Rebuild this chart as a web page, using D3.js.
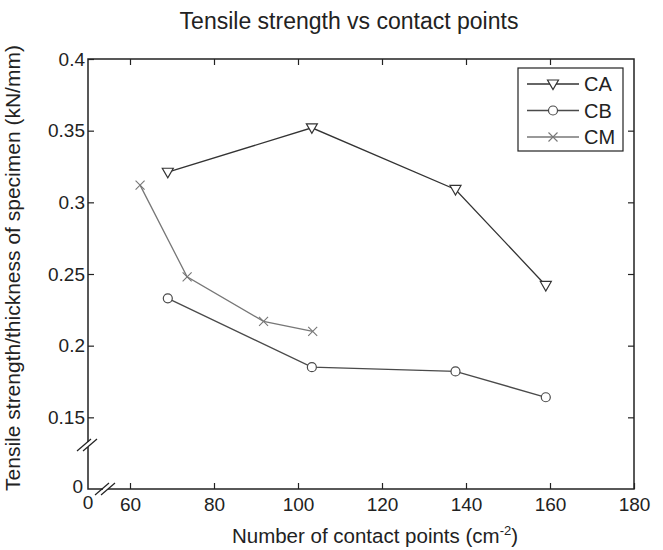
<!DOCTYPE html>
<html>
<head>
<meta charset="utf-8">
<script src="https://cdn.jsdelivr.net/npm/d3@7"></script>
<style>
  html, body { margin: 0; padding: 0; background: #fff; }
  svg { display: block; font-family: "Liberation Sans", Arial, sans-serif; }
</style>
</head>
<body>
<svg id="chart" width="663" height="550"></svg>
<script>
// Contact points (cm^-2) and tensile strength / thickness (kN/mm)
const seriesNames = ["CA", "CB", "CM"];
const caX = [69, 103.3, 137.5, 159];
const caY = [0.321, 0.352, 0.309, 0.242];
const cbX = [69, 103.3, 137.5, 159];
const cbY = [0.233, 0.185, 0.182, 0.164];
const cmX = [62.4, 73.6, 91.8, 103.5];
const cmY = [0.312, 0.248, 0.217, 0.210];
const xTicks = [60, 80, 100, 120, 140, 160, 180];
const yTicks = [0.15, 0.2, 0.25, 0.3, 0.35, 0.4];

const svg = d3.select("#chart");
const m = { left: 88, right: 634, top: 59, bottom: 489 };

const x = d3.scaleLinear().domain([50, 180]).range([m.left, m.right]);
const y = d3.scaleLinear().domain([0.1, 0.4]).range([m.bottom, m.top]);

const axisColor = "#222";
const tickFont = 19;
const fmt = d => String(d);

// Frame
svg.append("rect")
  .attr("x", m.left).attr("y", m.top)
  .attr("width", m.right - m.left).attr("height", m.bottom - m.top)
  .attr("fill", "none").attr("stroke", axisColor).attr("stroke-width", 1.5);

// Axes with inward ticks
const styleAxis = g => {
  g.select(".domain").remove();
  g.selectAll(".tick line").attr("stroke", axisColor).attr("stroke-width", 1.2);
  g.selectAll(".tick text").attr("fill", "#222").style("font-size", tickFont + "px")
    .style("font-family", '"Liberation Sans", Arial, sans-serif');
};

svg.append("g").attr("transform", `translate(0,${m.bottom})`)
  .call(d3.axisBottom(x).tickValues(xTicks).tickSizeInner(-6).tickSizeOuter(0).tickPadding(9).tickFormat(fmt))
  .call(styleAxis);
svg.append("g").attr("transform", `translate(0,${m.top})`)
  .call(d3.axisTop(x).tickValues(xTicks.slice(0, -1)).tickSizeInner(-6).tickSizeOuter(0).tickFormat(""))
  .call(styleAxis);
svg.append("g").attr("transform", `translate(${m.left},0)`)
  .call(d3.axisLeft(y).tickValues(yTicks).tickSizeInner(-6).tickSizeOuter(0).tickPadding(3).tickFormat(fmt))
  .call(styleAxis);
svg.append("g").attr("transform", `translate(${m.right},0)`)
  .call(d3.axisRight(y).tickValues(yTicks.slice(0, -1)).tickSizeInner(-6).tickSizeOuter(0).tickFormat(""))
  .call(styleAxis);

// Origin labels for the broken axes
svg.append("text").attr("x", 83).attr("y", 493)
  .attr("text-anchor", "end").style("font-size", tickFont + "px").attr("fill", "#222").text("0");
svg.append("text").attr("x", m.left).attr("y", 509)
  .attr("text-anchor", "middle").style("font-size", tickFont + "px").attr("fill", "#222").text("0");

// Axis break marks
const breakMark = (cx, cy) => {
  [-3, 3].forEach(d => {
    svg.append("line")
      .attr("x1", cx - 7 + d).attr("y1", cy + 6)
      .attr("x2", cx + 7 + d).attr("y2", cy - 6)
      .attr("stroke", axisColor).attr("stroke-width", 1.2);
  });
};
svg.append("rect").attr("x", m.left - 2).attr("y", 442).attr("width", 4).attr("height", 5).attr("fill", "#fff");
breakMark(m.left - 1, 445);
svg.append("rect").attr("x", 103).attr("y", m.bottom - 2).attr("width", 5).attr("height", 4).attr("fill", "#fff");
breakMark(105, m.bottom);

// Series
const series = [
  { name: seriesNames[0], xs: caX, ys: caY, color: "#333", marker: "tri" },
  { name: seriesNames[1], xs: cbX, ys: cbY, color: "#4a4a4a", marker: "circle" },
  { name: seriesNames[2], xs: cmX, ys: cmY, color: "#777", marker: "cross" }
];

const drawMarker = (g, type, cx, cy, color) => {
  if (type === "tri") {
    g.append("path")
      .attr("d", `M${cx - 5.5},${cy - 4} L${cx + 5.5},${cy - 4} L${cx},${cy + 5.5} Z`)
      .attr("fill", "#fff").attr("stroke", color).attr("stroke-width", 1.2);
  } else if (type === "circle") {
    g.append("circle").attr("cx", cx).attr("cy", cy).attr("r", 4.5)
      .attr("fill", "#fff").attr("stroke", color).attr("stroke-width", 1.2);
  } else {
    g.append("path")
      .attr("d", `M${cx - 4.5},${cy - 4.5} L${cx + 4.5},${cy + 4.5} M${cx - 4.5},${cy + 4.5} L${cx + 4.5},${cy - 4.5}`)
      .attr("stroke", color).attr("stroke-width", 1.1).attr("fill", "none");
  }
};

const line = d3.line().x(d => x(d[0])).y(d => y(d[1]));
series.forEach(s => {
  const pts = s.xs.map((v, i) => [v, s.ys[i]]);
  const g = svg.append("g");
  g.append("path").datum(pts).attr("d", line)
    .attr("fill", "none").attr("stroke", s.color).attr("stroke-width", 1.3);
  pts.forEach(p => drawMarker(g, s.marker, x(p[0]), y(p[1]), s.color));
});

// Legend
const legend = svg.append("g");
legend.append("rect").attr("x", 518).attr("y", 68).attr("width", 105).attr("height", 83)
  .attr("fill", "#fff").attr("stroke", axisColor).attr("stroke-width", 1.2);
series.forEach((s, i) => {
  const ly = 84 + i * 26.5;
  legend.append("line").attr("x1", 527).attr("x2", 579).attr("y1", ly).attr("y2", ly)
    .attr("stroke", s.color).attr("stroke-width", 1.3);
  drawMarker(legend, s.marker, 553, ly, s.color);
  legend.append("text").attr("x", 584).attr("y", ly + 7)
    .style("font-size", "20px").attr("fill", "#222").text(s.name);
});

// Title and axis labels
svg.append("text").attr("x", 349).attr("y", 29)
  .attr("text-anchor", "middle").style("font-size", "23px").attr("fill", "#222")
  .text("Tensile strength vs contact points");

const xl = svg.append("text").attr("x", 375).attr("y", 543)
  .attr("text-anchor", "middle").style("font-size", "20.5px").attr("fill", "#222");
xl.append("tspan").text("Number of contact points (cm");
xl.append("tspan").attr("dy", -8).style("font-size", "13px").text("-2");
xl.append("tspan").attr("dy", 8).text(")");

svg.append("text")
  .attr("transform", `translate(20,268) rotate(-90)`)
  .attr("text-anchor", "middle").style("font-size", "21px").attr("fill", "#222")
  .text("Tensile strength/thickness of specimen (kN/mm)");
</script>
</body>
</html>
